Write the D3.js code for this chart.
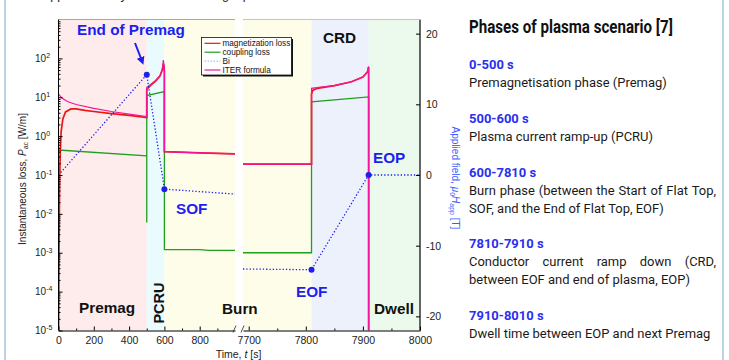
<!DOCTYPE html>
<html>
<head>
<meta charset="utf-8">
<script src="https://cdn.jsdelivr.net/npm/d3@7"></script>
<style>
  body { margin: 0; background: #fff; }
  svg { display: block; font-family: "Liberation Sans", Arial, sans-serif; }
</style>
</head>
<body>
<script>
// ---- data ----
const phaseNames = ['Premag', 'PCRU', 'Burn', 'CRD', 'Dwell'];
const phaseStart = [0, 500, 600, 7810, 7910];
const phaseEnd = [500, 600, 7810, 7910, 8010];
const phaseFill = ['#fdeceb', '#eafbfd', '#fdfdea', '#edf1fc', '#ebfaec'];

// magnetization loss [W/m]
const magTimeL = [0, 3, 6, 10, 15, 25, 40, 70, 100, 150, 200, 300, 400, 500, 500, 520, 550, 575, 588, 594, 598, 600, 600, 800, 1000];
const magValL = [1e-5, 1e-3, 0.05, 0.4, 1.3, 2.8, 4.2, 5.0, 5.0, 4.6, 4.3, 3.8, 3.4, 3.0, 16, 20, 26, 35, 50, 72, 60, 45, 0.4, 0.37, 0.35];
const magTimeR = [7690, 7810, 7810, 7812, 7820, 7850, 7880, 7900, 7908, 7910, 7910];
const magValR = [0.19, 0.19, 12, 15, 17, 20, 25, 33, 45, 60, 1e-5];

// coupling loss [W/m]
const coupTimeL = [0, 0, 500, 500, 500, 600, 600, 800, 850, 1000];
const coupValL = [1e-5, 0.44, 0.31, 0.006, 11, 14, 1.2e-3, 1.2e-3, 1.15e-3, 1.15e-3];
const coupTimeR = [7690, 7810, 7810, 7910, 7910];
const coupValR = [1e-3, 1e-3, 7.6, 10.2, 1e-5];

// ITER formula [W/m]
const iterTimeL = [0, 20, 50, 100, 200, 300, 400, 500, 500, 520, 550, 575, 588, 594, 598, 600, 600, 800, 1000];
const iterValL = [12, 9.5, 7.8, 6.5, 5.2, 4.3, 3.7, 3.2, 18, 21, 27, 36, 52, 90, 65, 45, 0.4, 0.37, 0.35];
const iterTimeR = [7690, 7810, 7810, 7830, 7850, 7880, 7900, 7908, 7910, 7910];
const iterValR = [0.19, 0.19, 17, 18.5, 20, 25, 33, 45, 62, 1e-5];

// applied field Bi [T]
const biTimeL = [0, 500, 600, 1000];
const biValL = [0, 14.2, -2.0, -2.7];
const biTimeR = [7690, 7810, 7910, 8000];
const biValR = [-13.3, -13.4, 0, 0];
const markTime = [500, 600, 7810, 7910];
const markVal = [14.2, -2.0, -13.4, 0];

const timeTicksL = [0, 200, 400, 600, 800];
const timeTicksR = [7700, 7800, 7900, 8000];
const decades = [1e-5, 1e-4, 1e-3, 1e-2, 1e-1, 1, 10, 100];
const fieldTicks = [-20, -10, 0, 10, 20];

const legendNames = ['magnetization loss', 'coupling loss', 'Bi', 'ITER formula'];

const phaseRanges = ['0-500 s', '500-600 s', '600-7810 s', '7810-7910 s', '7910-8010 s'];
const phaseDescs = [
  ['Premagnetisation phase (Premag)'],
  ['Plasma current ramp-up (PCRU)'],
  ['Burn phase (between the Start of Flat Top,', 'SOF, and the End of Flat Top, EOF)'],
  ['Conductor current ramp down (CRD,', 'between EOF and end of plasma, EOP)'],
  ['Dwell time between EOP and next Premag']
];

// ---- layout ----
const W = 729, H = 360;
const plotTop = 19.5, plotBottom = 330.5;
const xL = d3.scaleLinear().domain([0, 1000]).range([58.5, 235]);
const xR = d3.scaleLinear().domain([7690, 8000]).range([243, 420]);
const y = d3.scaleLog().domain([1e-5, 1e3]).range([plotBottom, plotTop]);
const y2 = d3.scaleLinear().domain([-22, 22]).range([plotBottom, plotTop]);

const RED = '#ee1515', GREEN = '#1f9e1f', MAG = '#f3159a', BLUE = '#1e1ef0';

const svg = d3.select('body').append('svg').attr('width', W).attr('height', H);

// slide frame
svg.append('line').attr('x1', 5).attr('x2', 5).attr('y1', 0).attr('y2', H)
  .attr('stroke', '#a9c4e3').attr('stroke-width', 1.5);
svg.append('line').attr('x1', 723).attr('x2', 723).attr('y1', 0).attr('y2', H)
  .attr('stroke', '#a9c4e3').attr('stroke-width', 1.5);

// title, cut at the top edge of the slide
svg.append('text').attr('x', 42).attr('y', -1).attr('font-size', 12.5).attr('fill', '#222')
  .text('Applied field by the CS coil during a plasma scenario');

const segments = [
  { x: xL, id: 'clipL', lo: 0, hi: 1000, sfx: 'L' },
  { x: xR, id: 'clipR', lo: 7690, hi: 8000, sfx: 'R' }
];

const defs = svg.append('defs');
segments.forEach(s => {
  defs.append('clipPath').attr('id', s.id).append('rect')
    .attr('x', s.x.range()[0]).attr('y', plotTop)
    .attr('width', s.x.range()[1] - s.x.range()[0]).attr('height', plotBottom - plotTop);
});
defs.append('marker').attr('id', 'arrow').attr('viewBox', '0 0 10 10')
  .attr('refX', 5).attr('refY', 5).attr('markerWidth', 4).attr('markerHeight', 4)
  .attr('orient', 'auto')
  .append('path').attr('d', 'M0,0 L10,5 L0,10 z').attr('fill', BLUE);

// phase backgrounds
segments.forEach(s => {
  phaseStart.forEach((t0, i) => {
    const a = Math.max(t0, s.lo), b = Math.min(phaseEnd[i], s.hi);
    if (b <= a) return;
    svg.append('rect').attr('x', s.x(a)).attr('y', plotTop)
      .attr('width', s.x(b) - s.x(a)).attr('height', plotBottom - plotTop)
      .attr('fill', phaseFill[i]);
  });
});

// curves
const lossSeries = [
  { t: { L: coupTimeL, R: coupTimeR }, v: { L: coupValL, R: coupValR }, color: GREEN, w: 1.3 },
  { t: { L: magTimeL, R: magTimeR }, v: { L: magValL, R: magValR }, color: RED, w: 1.7 },
  { t: { L: iterTimeL, R: iterTimeR }, v: { L: iterValL, R: iterValR }, color: MAG, w: 1.2 }
];

segments.forEach(s => {
  const g = svg.append('g').attr('clip-path', `url(#${s.id})`);
  const line = d3.line().x(d => s.x(d[0])).y(d => y(d[1]));
  lossSeries.forEach(ser => {
    g.append('path').datum(d3.zip(ser.t[s.sfx], ser.v[s.sfx]))
      .attr('d', line).attr('fill', 'none')
      .attr('stroke', ser.color).attr('stroke-width', ser.w);
  });
  const biLine = d3.line().x(d => s.x(d[0])).y(d => y2(d[1]));
  const bt = s.sfx === 'L' ? biTimeL : biTimeR;
  const bv = s.sfx === 'L' ? biValL : biValR;
  g.append('path').datum(d3.zip(bt, bv)).attr('d', biLine)
    .attr('fill', 'none').attr('stroke', BLUE).attr('stroke-width', 1.3)
    .attr('stroke-dasharray', '1.3,2');
});

// Bi markers
d3.zip(markTime, markVal).forEach(([t, v]) => {
  const sx = t <= 1000 ? xL : xR;
  svg.append('circle').attr('cx', sx(t)).attr('cy', y2(v)).attr('r', 3).attr('fill', BLUE);
});

// ---- axes ----
const tickFont = g => g.attr('font-family', '"Liberation Sans", Arial, sans-serif')
  .attr('font-size', 10.5).call(gg => gg.selectAll('text').attr('fill', '#222'));

// left log axis
const gy = svg.append('g').attr('transform', `translate(${xL(0)},0)`)
  .call(d3.axisLeft(y).tickValues(decades).tickSize(-4).tickSizeOuter(0).tickFormat(''))
  .call(tickFont);
gy.select('.domain').attr('d', `M0,${plotTop}V${plotBottom}`);
gy.selectAll('.tick text').attr('x', -23.5).attr('text-anchor', 'start').attr('font-size', 10)
  .each(function (d) {
    const e = Math.round(Math.log10(d));
    d3.select(this).text('10').append('tspan').attr('dy', '-0.55em')
      .attr('font-size', 7).text(e);
  });
const minors = [];
decades.forEach(d => { for (let m = 2; m <= 9; m++) minors.push(d * m); });
svg.append('g').attr('transform', `translate(${xL(0)},0)`)
  .call(d3.axisLeft(y).tickValues(minors).tickSize(-2).tickSizeOuter(0).tickFormat(''))
  .call(g => g.select('.domain').remove());

// bottom axes (broken)
[[xL, timeTicksL, [100, 300, 500, 700, 900]], [xR, timeTicksR, [7750, 7850, 7950]]].forEach(([sx, ticks, minor]) => {
  svg.append('g').attr('transform', `translate(0,${plotBottom})`)
    .call(d3.axisBottom(sx).tickValues(ticks).tickSize(-4).tickSizeOuter(0).tickPadding(6).tickFormat(d3.format('d')))
    .call(tickFont);
  svg.append('g').attr('transform', `translate(0,${plotBottom})`)
    .call(d3.axisBottom(sx).tickValues(minor).tickSize(-2).tickSizeOuter(0).tickFormat(''))
    .call(g => g.select('.domain').remove());
});
// break marks
[xL.range()[1], xR.range()[0]].forEach(bx => {
  svg.append('path').attr('d', `M${bx - 2},${plotBottom + 2}L${bx + 1},${plotBottom - 5}`)
    .attr('stroke', '#222').attr('stroke-width', 0.8).attr('fill', 'none');
});

// right linear axis
svg.append('g').attr('transform', `translate(${xR.range()[1]},0)`)
  .call(d3.axisRight(y2).tickValues(fieldTicks).tickSize(-4).tickSizeOuter(0).tickPadding(6)
    .tickFormat(d => String(d)))
  .call(tickFont)
  .call(g => g.select('.domain').attr('d', `M0,${plotTop}V${plotBottom}`).attr('stroke-width', 1.2));

// top frame
svg.append('line').attr('x1', xL.range()[0]).attr('x2', xL.range()[1]).attr('y1', plotTop).attr('y2', plotTop)
  .attr('stroke', '#555').attr('stroke-dasharray', '1,1');
svg.append('line').attr('x1', xR.range()[0]).attr('x2', xR.range()[1]).attr('y1', plotTop).attr('y2', plotTop)
  .attr('stroke', '#c4c4c4');

// axis titles
const yl = svg.append('text').attr('transform', 'translate(25.5,179) rotate(-90)')
  .attr('text-anchor', 'middle').attr('font-size', 10).attr('fill', '#222');
yl.append('tspan').text('Instantaneous loss, ');
yl.append('tspan').attr('font-style', 'italic').text('P');
yl.append('tspan').attr('font-size', 7).attr('dy', 2).text('ac');
yl.append('tspan').attr('dy', -2).text(' [W/m]');

const yr = svg.append('text').attr('transform', 'translate(452,178) rotate(90)')
  .attr('text-anchor', 'middle').attr('font-size', 10).attr('fill', '#3a5cff');
yr.append('tspan').text('Applied field, ');
yr.append('tspan').attr('font-style', 'italic').text('μ');
yr.append('tspan').attr('font-size', 7).attr('dy', 2).text('0');
yr.append('tspan').attr('font-style', 'italic').attr('dy', -2).text('H');
yr.append('tspan').attr('font-size', 7).attr('dy', 2).text('app');
yr.append('tspan').attr('dy', -2).text(' [T]');

const xlab = svg.append('text').attr('x', 238.5).attr('y', 357.5).attr('text-anchor', 'middle')
  .attr('font-size', 10.5).attr('fill', '#222');
xlab.append('tspan').text('Time, ');
xlab.append('tspan').attr('font-style', 'italic').text('t');
xlab.append('tspan').text(' [s]');

// ---- legend ----
const lg = svg.append('g').attr('transform', 'translate(201.5,37.5)');
lg.append('rect').attr('x', 1.5).attr('y', 1.5).attr('width', 90).attr('height', 37.5).attr('fill', '#111');
lg.append('rect').attr('width', 90).attr('height', 37.5).attr('fill', '#fff')
  .attr('stroke', '#111').attr('stroke-width', 0.8);
const legendColors = [RED, GREEN, '#8a94ff', MAG];
legendNames.forEach((n, i) => {
  const ly = 5.8 + i * 8.9;
  lg.append('line').attr('x1', 3).attr('x2', 19).attr('y1', ly).attr('y2', ly)
    .attr('stroke', legendColors[i]).attr('stroke-width', i === 2 ? 0.8 : 1.2)
    .attr('stroke-dasharray', i === 2 ? '1.5,1.5' : null);
  lg.append('text').attr('x', 21).attr('y', ly).attr('dy', '0.35em')
    .attr('font-size', 8.2).attr('fill', '#111').text(n);
});

// ---- annotations ----
const ann = (txt, x, yy, color, anchor) => svg.append('text').attr('x', x).attr('y', yy)
  .attr('font-weight', 'bold').attr('font-size', 15.3).attr('fill', color)
  .attr('text-anchor', anchor || 'start').text(txt);
ann('End of Premag', 77, 35, BLUE);
ann('SOF', 176, 214, BLUE);
ann('EOF', 296, 297, BLUE);
ann('EOP', 373, 163, BLUE);
svg.append('line').attr('x1', 135).attr('y1', 43).attr('x2', 142).attr('y2', 61)
  .attr('stroke', BLUE).attr('stroke-width', 2).attr('marker-end', 'url(#arrow)');

// phase labels inside the plot
ann(phaseNames[0], 79, 313, '#111');
svg.append('text').attr('transform', 'translate(163.5,303) rotate(-90)')
  .attr('text-anchor', 'middle').attr('font-weight', 'bold').attr('font-size', 14.5)
  .attr('fill', '#111').text(phaseNames[1]);
ann(phaseNames[2], 222, 314, '#111');
ann(phaseNames[3], 323, 43, '#111');
ann(phaseNames[4], 374, 314, '#111');

// ---- right text panel ----
const panel = svg.append('g').attr('font-family', 'Roboto, "Noto Sans", sans-serif');
const px = 469, colW = 247, lh = 17.9;
const title = panel.append('text').attr('y', 33).attr('font-weight', 'bold')
  .attr('font-size', 17.5).attr('fill', '#111').text('Phases of plasma scenario [7]');
const tw = title.node().getComputedTextLength();
const titleCond = 204 / tw;
title.attr('transform', `translate(${px},0) scale(${titleCond},1)`);

// condense factor of the body font, taken from the first description line
const probe = panel.append('text').attr('font-size', 13.5).text(phaseDescs[0][0]);
const bodyCond = 198 / probe.node().getComputedTextLength();
probe.remove();

const body = panel.append('g').attr('transform', `translate(${px},0) scale(${bodyCond},1)`);
let yy = 69.5;
phaseRanges.forEach((r, i) => {
  body.append('text').attr('y', yy).attr('font-size', 13.5).attr('font-weight', 'bold')
    .attr('fill', '#2a2ff0').text(r);
  yy += lh;
  phaseDescs[i].forEach((line, j) => {
    const t = body.append('text').attr('y', yy).attr('font-size', 13.5).attr('fill', '#1a1a1a').text(line);
    if (j < phaseDescs[i].length - 1) {
      // justified paragraph: stretch the word gaps to the column width
      const nat = t.node().getComputedTextLength();
      const gaps = line.split(' ').length - 1;
      const extra = (colW / bodyCond - nat) / gaps;
      if (extra > 0) t.attr('word-spacing', extra);
    }
    yy += lh;
  });
  yy += lh;
});
</script>
</body>
</html>
